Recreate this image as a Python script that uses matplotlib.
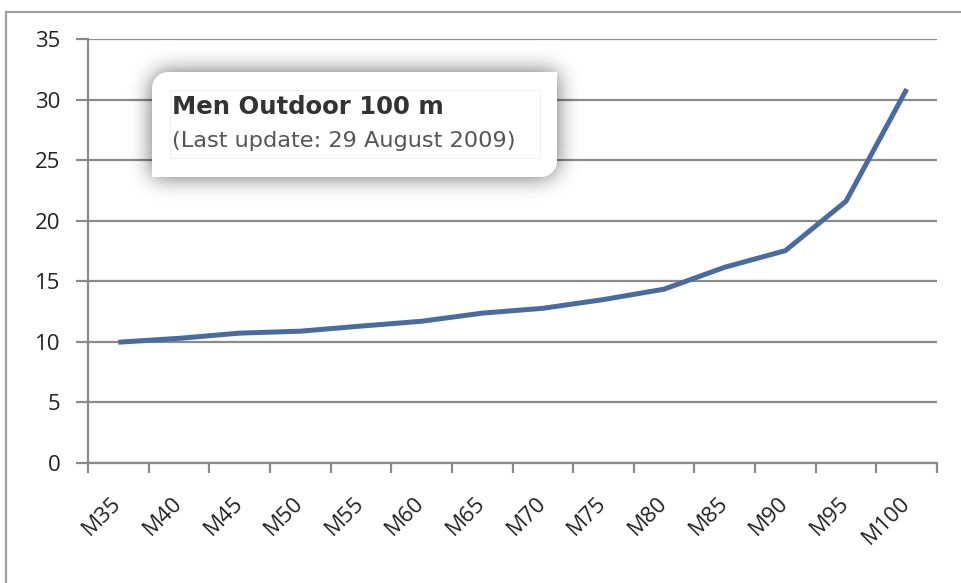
import numpy as np
import matplotlib
matplotlib.use("Agg")
import matplotlib.pyplot as plt
from matplotlib.path import Path
from matplotlib.patches import PathPatch

# age groups and 100 m outdoor records (seconds)
groups = ["M35", "M40", "M45", "M50", "M55", "M60", "M65",
          "M70", "M75", "M80", "M85", "M90", "M95", "M100"]
times = [9.97, 10.29, 10.72, 10.88, 11.30, 11.70, 12.37,
         12.77, 13.49, 14.35, 16.16, 17.53, 21.61, 30.86]
yticks = [0, 5, 10, 15, 20, 25, 30, 35]
title = "Men Outdoor 100 m"
subtitle = "(Last update: 29 August 2009)"

W, H = 961, 583
grey = "#8a8a8a"
tickfont = "Open Sans"
fig = plt.figure(figsize=(W / 100, H / 100), dpi=100)
fig.patch.set_facecolor("white")

ax = fig.add_axes([88 / W, 1 - 463 / H, (937 - 88) / W, (463 - 39) / H])
x = np.arange(len(groups))
ax.plot(x, times, color="#4a6b9f", lw=3.6, solid_capstyle="butt",
        solid_joinstyle="round", zorder=3)

ax.set_xlim(-0.5, len(groups) - 0.5)
ax.set_ylim(0, 35)
ax.set_yticks(yticks)
ax.yaxis.grid(True, color=grey, lw=1.6)
ax.set_axisbelow(True)
ax.tick_params(axis="y", length=9, width=1.6, color=grey, pad=11,
               labelsize=16, labelcolor="#222222")
for lab in ax.get_yticklabels():
    lab.set_family(tickfont)

ax.set_xticks(x)
ax.set_xticklabels(groups, rotation=45, ha="right", va="center",
                   rotation_mode="anchor", fontsize=16, family=tickfont,
                   color="#222222")
ax.set_xticks(np.arange(len(groups) + 1) - 0.5, minor=True)
ax.tick_params(axis="x", which="major", length=0, pad=27)
ax.tick_params(axis="x", which="minor", length=7, width=1.6, color=grey)

for side in ("top", "right"):
    ax.spines[side].set_visible(False)
for side in ("left", "bottom"):
    ax.spines[side].set_color(grey)
    ax.spines[side].set_linewidth(1.6)

# overlay in pixel coordinates for the frame and the title card
ov = fig.add_axes([0, 0, 1, 1], zorder=5)
ov.set_xlim(0, W)
ov.set_ylim(H, 0)
ov.axis("off")
ov.patch.set_alpha(0)

ov.plot([6, 6, W], [H, 12, 12], color="#a0a0a0", lw=1.6,
        solid_joinstyle="miter")

# card outline: rounded top-left and bottom-right corners
bx0, by0, bx1, by1, r = 152, 72, 557, 177, 16
k = 0.55 * r
verts = [(bx0, by0 + r),
         (bx0, by0 + r - k), (bx0 + r - k, by0), (bx0 + r, by0),
         (bx1, by0),
         (bx1, by1 - r),
         (bx1, by1 - r + k), (bx1 - r + k, by1), (bx1 - r, by1),
         (bx0, by1),
         (bx0, by0 + r)]
codes = [Path.MOVETO, Path.CURVE4, Path.CURVE4, Path.CURVE4, Path.LINETO,
         Path.LINETO, Path.CURVE4, Path.CURVE4, Path.CURVE4, Path.LINETO,
         Path.CLOSEPOLY]
card = Path(verts, codes)

# soft drop shadow from a blurred mask of the card
yy, xx = np.mgrid[0:H, 0:W]
pts = np.column_stack([xx.ravel() + 0.5, yy.ravel() + 0.5])
mask = card.contains_points(pts).reshape(H, W).astype(float)
sig = 11
kx = np.arange(-3 * sig, 3 * sig + 1)
kern = np.exp(-kx ** 2 / (2 * sig ** 2))
kern /= kern.sum()
blur = np.apply_along_axis(lambda v: np.convolve(v, kern, mode="same"), 1, mask)
blur = np.apply_along_axis(lambda v: np.convolve(v, kern, mode="same"), 0, blur)
shadow = np.zeros((H, W, 4))
shadow[..., 3] = np.clip(blur * 0.6, 0, 1)
ov.imshow(shadow, extent=[0, W, H, 0], interpolation="bilinear", zorder=1)

ov.add_patch(PathPatch(card, facecolor="white", edgecolor="none", zorder=2))
ov.add_patch(plt.Rectangle((170, 90), 370, 68, facecolor="none",
                           edgecolor="#f0f0f0", lw=0.8, zorder=3))
ov.text(172, 114, title, fontsize=17.6, fontweight="bold", color="#333333",
        family="DejaVu Sans", va="baseline", zorder=4)
ov.text(172, 147, subtitle, fontsize=16.2, color="#555555",
        family="DejaVu Sans", va="baseline", zorder=4)

fig.savefig("out.png", dpi=100)
